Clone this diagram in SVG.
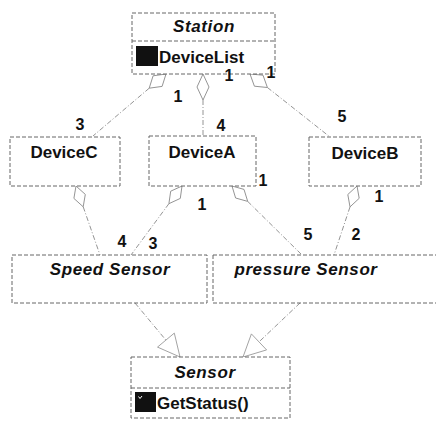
<svg xmlns="http://www.w3.org/2000/svg" width="436" height="423" viewBox="0 0 436 423">
  <style>
    .box { fill: #fff; stroke: #666; stroke-width: 1; stroke-dasharray: 4 2; }
    .div { stroke: #666; stroke-width: 1; stroke-dasharray: 4 2; }
    .conn { fill: none; stroke: #888; stroke-width: 0.9; stroke-dasharray: 5 2 1 2; }
    .agg { fill: #fff; stroke: #888; stroke-width: 0.9; }
    .gen { fill: #fff; stroke: #999; stroke-width: 0.9; }
    .name { font-family: "Liberation Sans", Arial, sans-serif; font-size: 17px; font-weight: bold; fill: #111; text-anchor: middle; }
    .abs { font-style: italic; letter-spacing: 0.6px; }
    .member { font-family: "Liberation Sans", Arial, sans-serif; font-size: 17px; font-weight: bold; fill: #111; }
    .mult { font-family: "Liberation Sans", Arial, sans-serif; font-size: 16px; font-weight: bold; fill: #111; text-anchor: middle; }
    .icon { fill: #111; }
  </style>

  <!-- connectors: aggregations and generalizations -->
  <g id="connectors">
    <!-- Station to devices -->
    <line class="conn" x1="149.2" y1="88.2" x2="93" y2="136"/>
    <polygon class="agg" points="166,74 153.1,75.8 149.2,88.2 162.1,86.4"/>
    <line class="conn" x1="203" y1="100" x2="203" y2="136"/>
    <polygon class="agg" points="203,74 197,87 203,100 209,87"/>
    <line class="conn" x1="267.4" y1="87.5" x2="330" y2="137"/>
    <polygon class="agg" points="250,74 263,75.2 267.4,87.5 254.4,86.2"/>

    <!-- devices to sensors -->
    <line class="conn" x1="83.2" y1="206.8" x2="100" y2="255"/>
    <polygon class="agg" points="76,186 73.9,198.4 83.2,206.8 85.3,194.4"/>
    <line class="conn" x1="168.9" y1="203.7" x2="131" y2="255"/>
    <polygon class="agg" points="182,186 170.7,191.2 168.9,203.7 180.3,198.4"/>
    <line class="conn" x1="247.7" y1="201.4" x2="302" y2="255"/>
    <polygon class="agg" points="232,186 235.6,198 247.7,201.4 244,189.4"/>
    <line class="conn" x1="350" y1="206.9" x2="334" y2="255"/>
    <polygon class="agg" points="357,186 347.8,194.5 350,206.9 359.2,198.3"/>

    <!-- sensors to Sensor -->
    <line class="conn" x1="135" y1="303" x2="165.9" y2="340.1"/>
    <polygon class="gen" points="180,357 157.5,347.1 174.3,333.1"/>
    <line class="conn" x1="300" y1="303" x2="259" y2="341.9"/>
    <polygon class="gen" points="243,357 266.6,349.9 251.4,333.9"/>
  </g>

  <!-- multiplicities -->
  <g id="multiplicities">
    <text class="mult" x="80" y="130">3</text>
    <text class="mult" x="178" y="102">1</text>
    <text class="mult" x="221" y="131">4</text>
    <text class="mult" x="342" y="122">5</text>
    <text class="mult" x="99" y="186">1</text>
    <text class="mult" x="263" y="186">1</text>
    <text class="mult" x="202" y="210">1</text>
    <text class="mult" x="379" y="202">1</text>
    <text class="mult" x="122" y="247">4</text>
    <text class="mult" x="153" y="249">3</text>
    <text class="mult" x="308" y="240">5</text>
    <text class="mult" x="356" y="240">2</text>
  </g>

  <g id="station">
    <rect class="box" x="132" y="13" width="143" height="61"/>
    <line class="div" x1="132" y1="41" x2="275" y2="41"/>
    <text class="name abs" x="204" y="32">Station</text>
    <rect class="icon" x="136" y="46" width="22" height="20"/>
    <text class="member" x="159" y="63">DeviceList</text>
    <text class="mult" x="229" y="81">1</text>
    <text class="mult" x="271" y="78">1</text>
  </g>

  <g id="deviceC">
    <rect class="box" x="10" y="137" width="110" height="49"/>
    <text class="name" x="64" y="158">DeviceC</text>
  </g>

  <g id="deviceA">
    <rect class="box" x="149" y="136" width="107" height="50"/>
    <text class="name" x="202" y="158">DeviceA</text>
  </g>

  <g id="deviceB">
    <rect class="box" x="309" y="137" width="112" height="49"/>
    <text class="name" x="365" y="159">DeviceB</text>
  </g>

  <g id="speedSensor">
    <rect class="box" x="12" y="255" width="195" height="48"/>
    <text class="name abs" x="110" y="275">Speed Sensor</text>
  </g>

  <g id="pressureSensor">
    <rect class="box" x="213" y="255" width="230" height="48"/>
    <text class="name abs" x="306" y="275">pressure Sensor</text>
  </g>

  <g id="sensor">
    <rect class="box" x="131" y="357" width="159" height="61"/>
    <line class="div" x1="131" y1="388" x2="290" y2="388"/>
    <text class="name abs" x="205" y="378">Sensor</text>
    <rect class="icon" x="135" y="392" width="21" height="20"/>
    <path d="M138.5 396.5 l1.5 2 l2 -2.5" fill="none" stroke="#fff" stroke-width="1"/>
    <text class="member" x="157" y="409">GetStatus()</text>
  </g>
</svg>
